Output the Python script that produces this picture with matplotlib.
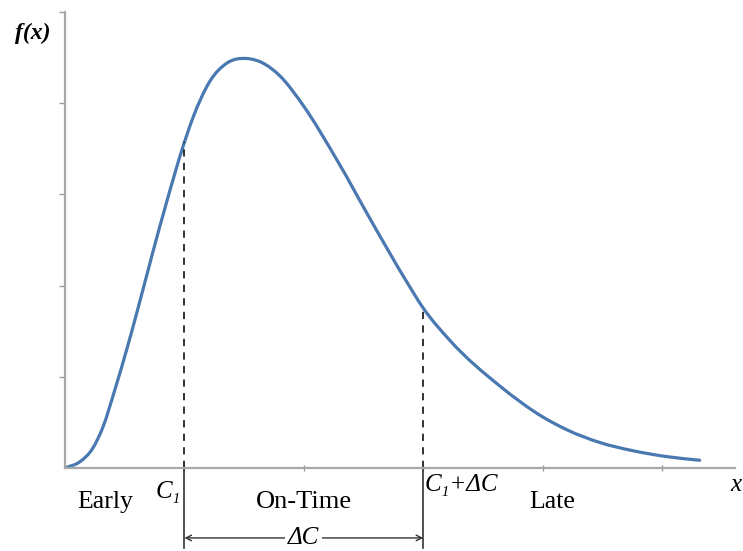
import numpy as np
import matplotlib.pyplot as plt
from matplotlib.path import Path
from matplotlib.patches import PathPatch

plt.rcParams['font.family'] = ['Liberation Serif', 'DejaVu Serif']

# curve points
x_vals = [0.0, 0.126, 0.234, 0.318, 0.418, 0.519, 0.603, 0.728, 0.854, 0.987,
          1.071, 1.213, 1.356, 1.523, 1.657, 1.799, 1.992, 2.276, 2.577, 2.862,
          2.996, 3.222, 3.640, 4.000, 4.201, 4.477, 4.753, 5.038, 5.314]
f_vals = [0.0, 0.07, 0.22, 0.45, 0.86, 1.31, 1.71, 2.33, 2.93, 3.52,
          3.84, 4.24, 4.44, 4.49, 4.44, 4.30, 3.98, 3.38, 2.68, 2.04,
          1.76, 1.40, 0.90, 0.56, 0.42, 0.28, 0.19, 0.125, 0.085]

c1 = 1.0
c2 = 3.0
f_c1 = 3.58
f_c2 = 1.75


def smooth_path(xs, ys):
    # cubic Hermite through the read points, drawn as Bezier segments
    xs = np.asarray(xs, float)
    ys = np.asarray(ys, float)
    n = len(xs)
    m = np.gradient(ys, xs)
    verts = [(xs[0], ys[0])]
    codes = [Path.MOVETO]
    for i in range(n - 1):
        h = xs[i + 1] - xs[i]
        verts += [(xs[i] + h / 3, ys[i] + m[i] * h / 3),
                  (xs[i + 1] - h / 3, ys[i + 1] - m[i + 1] * h / 3),
                  (xs[i + 1], ys[i + 1])]
        codes += [Path.CURVE4] * 3
    return Path(verts, codes)


fig = plt.figure(figsize=(7.43, 5.51), dpi=100)
ax = fig.add_axes([65 / 743, 83 / 551, 670 / 743, 456 / 551])

ax.add_patch(PathPatch(smooth_path(x_vals, f_vals), facecolor='none',
                       edgecolor='#4a78b0', lw=2.3, capstyle='round'))

# dashed boundaries
ax.plot([c1, c1], [0, f_c1], color='#222222', lw=1.3, ls=(0, (4, 3.5)))
ax.plot([c2, c2], [0, f_c2], color='#222222', lw=1.3, ls=(0, (4, 3.5)))
# solid extension below axis
ax.plot([c1, c1], [0, -0.876], color='#333333', lw=1.2, clip_on=False)
ax.plot([c2, c2], [0, -0.876], color='#333333', lw=1.2, clip_on=False)

ax.annotate('', xy=(c1, -0.767), xytext=(c2, -0.767),
            arrowprops=dict(arrowstyle='<->', color='#333333', lw=1.0,
                            shrinkA=0, shrinkB=0),
            annotation_clip=False)
ax.text(2.0, -0.767, 'ΔC', fontsize=18, style='italic', ha='center', va='center',
        bbox=dict(facecolor='white', edgecolor='none', pad=2), clip_on=False)

ax.set_xlim(0, 5.61)
ax.set_ylim(0, 5.0)
ax.set_xticks([1, 2, 3, 4, 5])
ax.set_yticks([1, 2, 3, 4, 5])
ax.set_xticklabels([])
ax.set_yticklabels([])
ax.tick_params(axis='x', direction='inout', length=5, color='#999999', width=1)
ax.tick_params(axis='y', direction='out', length=4, color='#999999', width=1)
for s in ['top', 'right']:
    ax.spines[s].set_visible(False)
for s in ['left', 'bottom']:
    ax.spines[s].set_color('#a8a8a8')
    ax.spines[s].set_linewidth(1.6)

ax.text(0.335, -0.372, 'Early', fontsize=18.5, ha='center', va='center')
ax.text(0.862, -0.263, 'C₁', fontsize=18, style='italic', ha='center', va='center')
ax.text(2.0, -0.372, 'On-Time', fontsize=19, ha='center', va='center')
ax.text(3.01, -0.19, 'C₁+ΔC', fontsize=18, style='italic', ha='left', va='center')
ax.text(4.08, -0.372, 'Late', fontsize=18.5, ha='center', va='center')
ax.text(5.62, -0.19, 'x', fontsize=18, style='italic', ha='center', va='center')
fig.text(33 / 743, 1 - 33 / 551, 'f(x)', fontsize=17, style='italic',
         weight='bold', ha='center', va='center')

fig.savefig('out.png', dpi=100)
